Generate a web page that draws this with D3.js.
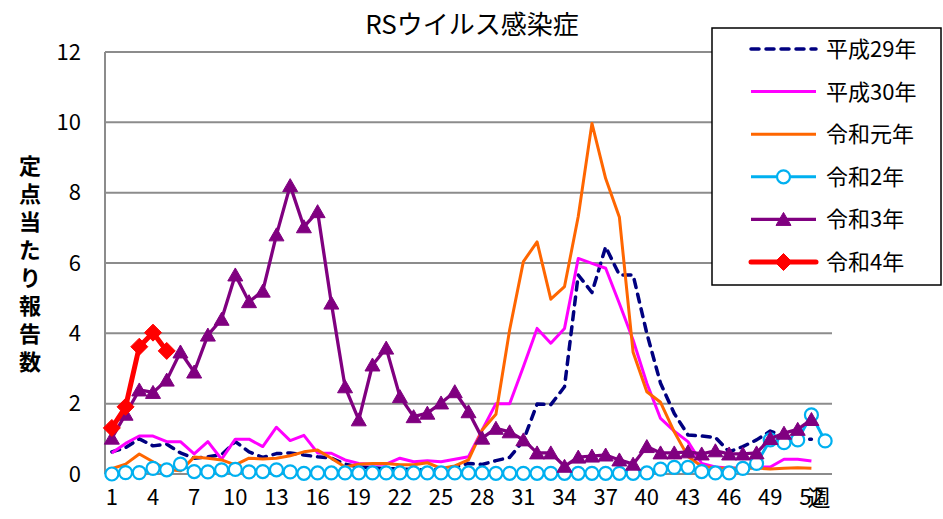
<!DOCTYPE html>
<html>
<head>
<meta charset="utf-8">
<script src="https://cdn.jsdelivr.net/npm/d3@7"></script>
<style>
  body { margin: 0; background: #fff; }
  text { font-family: "Noto Sans CJK JP", "Noto Sans", sans-serif; fill: #000; }
</style>
</head>
<body>
<div id="chart"></div>
<script>
// weeks 1..53 (2020 has a 53rd week)
const weeks = d3.range(1, 54);
const xTicks = [1, 4, 7, 10, 13, 16, 19, 22, 25, 28, 31, 34, 37, 40, 43, 46, 49, 52];
const yTicks = [0, 2, 4, 6, 8, 10, 12];

// reports per sentinel site
const h29 = [0.63, 0.75, 1.0, 0.8, 0.85, 0.6, 0.45, 0.49, 0.55, 0.92,
  0.63, 0.47, 0.58, 0.6, 0.54, 0.49, 0.45, 0.28, 0.2, 0.18,
  0.15, 0.15, 0.12, 0.12, 0.15, 0.2, 0.3, 0.27, 0.38, 0.47,
  0.95, 1.99, 1.97, 2.48, 5.66, 5.16, 6.46, 5.66, 5.66, 4.0,
  2.58, 1.72, 1.11, 1.08, 1.04, 0.63, 0.78, 0.97, 1.22, 1.08,
  0.98, 0.99];
const h30 = [0.6, 0.87, 1.08, 1.08, 0.92, 0.92, 0.57, 0.92, 0.42, 0.99,
  0.99, 0.78, 1.33, 0.95, 1.1, 0.6, 0.59, 0.4, 0.3, 0.28,
  0.28, 0.45, 0.35, 0.38, 0.35, 0.42, 0.49, 1.25, 2.0, 2.0,
  3.05, 4.14, 3.72, 4.14, 6.13, 5.99, 5.85, 4.85, 3.81, 2.58,
  1.58, 1.22, 0.92, 0.3, 0.2, 0.17, 0.17, 0.2, 0.2, 0.42,
  0.42, 0.37];
const r1 = [0.15, 0.28, 0.57, 0.35, 0.13, 0.09, 0.48, 0.45, 0.4, 0.26,
  0.45, 0.43, 0.45, 0.52, 0.63, 0.68, 0.45, 0.2, 0.28, 0.3,
  0.3, 0.26, 0.26, 0.32, 0.16, 0.23, 0.4, 1.25, 1.7, 4.1,
  6.04, 6.6, 4.97, 5.33, 7.32, 9.97, 8.4, 7.3, 3.46, 2.34,
  2.04, 1.2, 0.5, 0.22, 0.17, 0.16, 0.16, 0.17, 0.14, 0.16,
  0.18, 0.16];
const r2 = [0.0, 0.04, 0.04, 0.16, 0.12, 0.28, 0.07, 0.06, 0.12, 0.13,
  0.06, 0.07, 0.12, 0.06, 0.02, 0.03, 0.03, 0.03, 0.03, 0.03,
  0.03, 0.03, 0.03, 0.03, 0.03, 0.03, 0.03, 0.03, 0.02, 0.02,
  0.02, 0.02, 0.02, 0.02, 0.02, 0.02, 0.02, 0.02, 0.02, 0.03,
  0.14, 0.19, 0.19, 0.07, 0.03, 0.03, 0.16, 0.3, 0.97, 0.89,
  0.97, 1.68, 0.94];
const r3 = [1.02, 1.7, 2.39, 2.32, 2.67, 3.47, 2.9, 3.95, 4.4, 5.66,
  4.9, 5.2, 6.8, 8.2, 7.03, 7.46, 4.86, 2.48, 1.54, 3.1,
  3.58, 2.2, 1.63, 1.73, 2.02, 2.34, 1.77, 1.02, 1.3, 1.2,
  0.97, 0.6, 0.6, 0.22, 0.48, 0.51, 0.54, 0.4, 0.28, 0.78,
  0.6, 0.6, 0.63, 0.57, 0.66, 0.57, 0.57, 0.6, 1.01, 1.16,
  1.27, 1.55];
const r4 = [1.31, 1.91, 3.62, 4.02, 3.5];

const seriesNames = ["平成29年", "平成30年", "令和元年", "令和2年", "令和3年", "令和4年"];
const seriesValues = [h29, h30, r1, r2, r3, r4];

// line styles per series
const styles = [
  { color: "#000080", width: 3.5, dash: "8,7", marker: null },
  { color: "#FF00FF", width: 3, dash: null, marker: null },
  { color: "#FF6600", width: 3, dash: null, marker: null },
  { color: "#00B0F0", width: 3, dash: null, marker: "circle" },
  { color: "#800080", width: 3.3, dash: null, marker: "triangle" },
  { color: "#FF0000", width: 5, dash: null, marker: "diamond" }
];

const width = 943, height = 519;
const margin = { top: 52, right: 111, bottom: 45, left: 105 };

const svg = d3.select("#chart").append("svg")
  .attr("width", width)
  .attr("height", height);

const x = d3.scaleBand()
  .domain(weeks)
  .range([margin.left, width - margin.right]);
const y = d3.scaleLinear()
  .domain([0, 12])
  .range([height - margin.bottom, margin.top]);
const cx = w => x(w) + x.bandwidth() / 2;

// gridlines
svg.append("g")
  .selectAll("line")
  .data(yTicks)
  .enter().append("line")
  .attr("x1", margin.left)
  .attr("x2", width - margin.right)
  .attr("y1", d => y(d))
  .attr("y2", d => y(d))
  .attr("stroke", "#8c8c8c")
  .attr("stroke-width", 2);

// y axis line
svg.append("line")
  .attr("x1", margin.left).attr("x2", margin.left)
  .attr("y1", y(0)).attr("y2", y(12))
  .attr("stroke", "#8c8c8c")
  .attr("stroke-width", 2);

// y axis labels
const yAxis = svg.append("g")
  .attr("transform", `translate(${margin.left},0)`)
  .call(d3.axisLeft(y).tickValues(yTicks).tickSize(0).tickPadding(24));
yAxis.select(".domain").remove();
yAxis.selectAll("text").style("font-size", "22px");

// x axis labels
const xAxis = svg.append("g")
  .attr("transform", `translate(0,${y(0)})`)
  .call(d3.axisBottom(x).tickValues(xTicks).tickSize(0).tickPadding(15));
xAxis.select(".domain").remove();
xAxis.selectAll("text").style("font-size", "22px");

// the week unit sits on top of the last tick label, as in the original
svg.append("text")
  .attr("x", 819)
  .attr("y", 506)
  .attr("text-anchor", "middle")
  .style("font-size", "23px")
  .text("週");

// title
svg.append("text")
  .attr("x", 472)
  .attr("y", 34)
  .attr("text-anchor", "middle")
  .style("font-size", "26px")
  .text("RSウイルス感染症");

// y axis title, vertical
svg.append("text")
  .attr("x", 30)
  .attr("y", 155)
  .style("writing-mode", "vertical-rl")
  .style("font-size", "22px")
  .style("font-weight", "bold")
  .style("letter-spacing", "6px")
  .text("定点当たり報告数");

// marker shapes
function markerPath(type) {
  if (type === "circle") return d3.symbol().type(d3.symbolCircle).size(Math.PI * 6.5 * 6.5)();
  if (type === "triangle") return "M0,-7L7.5,6L-7.5,6Z";
  if (type === "diamond") return "M0,-8.5L8.5,0L0,8.5L-8.5,0Z";
  return null;
}

function drawMarker(g, type, color, px, py) {
  g.append("path")
    .attr("d", markerPath(type))
    .attr("transform", `translate(${px},${py})`)
    .attr("fill", type === "circle" ? "#fff" : color)
    .attr("stroke", color)
    .attr("stroke-width", type === "circle" ? 2.2 : 1);
}

const line = d3.line()
  .x((d, i) => cx(weeks[i]))
  .y(d => y(d));

// series in drawing order
seriesValues.forEach(function(vals, k) {
  const st = styles[k];
  const g = svg.append("g");
  g.append("path")
    .datum(vals)
    .attr("d", line)
    .attr("fill", "none")
    .attr("stroke", st.color)
    .attr("stroke-width", st.width)
    .attr("stroke-linejoin", "round")
    .attr("stroke-linecap", st.dash ? "round" : "butt")
    .attr("stroke-dasharray", st.dash);
  if (st.marker) {
    vals.forEach(function(v, i) {
      drawMarker(g, st.marker, st.color, cx(weeks[i]), y(v));
    });
  }
});

// legend
const legend = svg.append("g");
legend.append("rect")
  .attr("x", 712)
  .attr("y", 28)
  .attr("width", 229)
  .attr("height", 257)
  .attr("fill", "#fff")
  .attr("stroke", "#000")
  .attr("stroke-width", 1.5);

seriesNames.forEach(function(name, k) {
  const st = styles[k];
  const ly = 49 + k * 42.6;
  legend.append("line")
    .attr("x1", 751).attr("x2", 816)
    .attr("y1", ly).attr("y2", ly)
    .attr("stroke", st.color)
    .attr("stroke-width", st.width)
    .attr("stroke-linecap", st.dash || k === 5 ? "round" : "butt")
    .attr("stroke-dasharray", st.dash);
  if (st.marker) drawMarker(legend, st.marker, st.color, 783.5, ly);
  legend.append("text")
    .attr("x", 826)
    .attr("y", ly)
    .attr("dy", "0.36em")
    .style("font-size", "22px")
    .text(name);
});
</script>
</body>
</html>
